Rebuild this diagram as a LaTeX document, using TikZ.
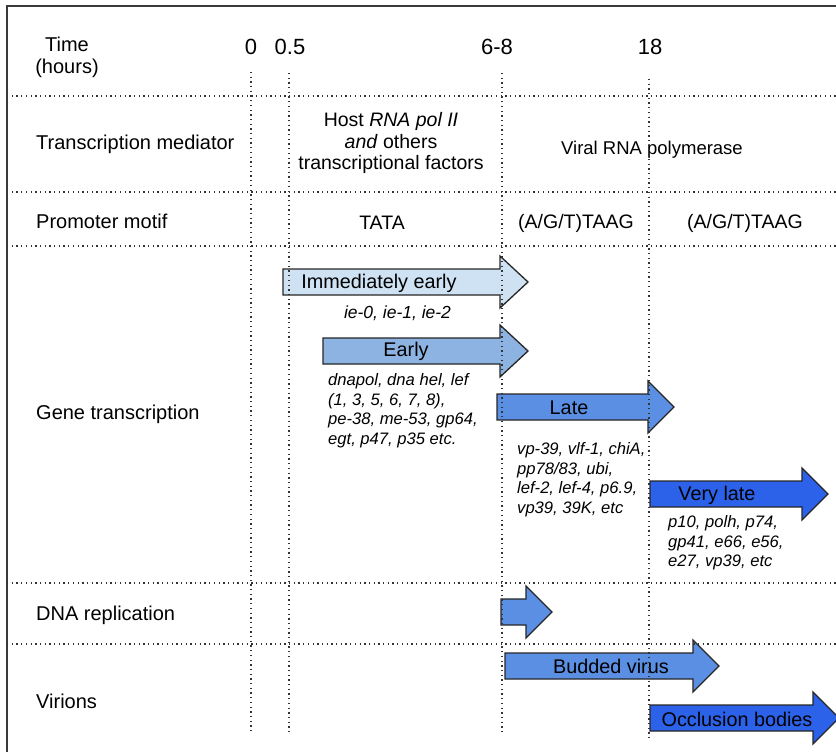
\documentclass[tikz,border=0pt]{standalone}
\usepackage{fontspec}
\setmainfont{Liberation Sans}
\definecolor{ieblue}{HTML}{CFE2F3}
\definecolor{eblue}{HTML}{8DB3E2}
\definecolor{lblue}{HTML}{5B8FE3}
\definecolor{vblue}{HTML}{2C62E9}
\definecolor{framegray}{HTML}{3A3A3A}
\newcommand\barrow[5]{% x1, xh, x2, yc, fill
  \draw[arr, fill=#5] (#1,#4-13) -- (#2,#4-13) -- (#2,#4-26) -- (#3,#4) -- (#2,#4+26) -- (#2,#4+13) -- (#1,#4+13) -- cycle;}
\begin{document}
\begin{tikzpicture}[x=1pt,y=-1pt,
  lab/.style={font=\fontsize{19.8}{22}\selectfont, inner sep=0pt},
  mid/.style={font=\fontsize{19.5}{21.5}\selectfont, inner sep=0pt},
  rowlab/.style={font=\fontsize{20}{22}\selectfont, inner sep=0pt, anchor=west},
  genes/.style={font=\fontsize{16.6}{19.8}\selectfont\itshape, align=left, inner sep=0pt, anchor=north west},
  tnum/.style={font=\fontsize{22}{26}\selectfont, inner sep=0pt},
  gridline/.style={line width=1.3pt, dash pattern=on 1.3pt off 3.4pt, color=black!80},
  arr/.style={draw=black!85, line width=1.3pt, line join=miter}]
\useasboundingbox (0,0) rectangle (836,752);

% frame
\draw[line width=2pt, color=framegray] (7,752) -- (7,6) -- (836,6);

% time header
\node[font=\fontsize{20}{22}\selectfont, inner sep=0pt, align=center] (time) at (67,57) {Time\\(hours)};
\node[tnum] (t0) at (251,47) {0};
\node[tnum] (t05) at (290,47) {0.5};
\node[tnum] (t68) at (497,47) {6-8};
\node[tnum] (t18) at (650,47) {18};

% row labels
\node[rowlab] (rmed) at (36,144) {Transcription mediator};
\node[rowlab] (rprom) at (36,221) {Promoter motif};
\node[rowlab] (rgene) at (36,414) {Gene transcription};
\node[rowlab] (rdna) at (36,615) {DNA replication};
\node[rowlab] (rvir) at (36,701) {Virions};

% mediator / promoter texts
\node[mid, align=center] (host) at (391,143) {Host \textit{RNA pol II}\\\textit{and} others\\transcriptional factors};
\node[font=\fontsize{18.5}{21}\selectfont, inner sep=0pt] (viral) at (652,150) {Viral RNA polymerase};
\node[mid] (tata) at (382,223) {TATA};
\node[mid] (motif1) at (576,223) {(A/G/T)TAAG};
\node[mid] (motif2) at (745,223) {(A/G/T)TAAG};

% arrows
\barrow{283}{500}{528}{282}{ieblue}
\barrow{323}{500}{528}{351}{eblue}
\barrow{497}{648}{674}{407}{lblue}
\barrow{650}{802}{828}{494}{vblue}
\barrow{501}{526}{552}{612}{lblue}
\barrow{505}{693}{719}{666}{lblue}
\barrow{650}{813}{839}{718}{vblue}

\node[lab] (aie) at (379,283) {Immediately early};
\node[lab] (aearly) at (406,351) {Early};
\node[lab] (alate) at (569,408) {Late};
\node[lab] (avlate) at (717,495) {Very late};
\node[lab] (abud) at (611,666) {Budded virus};
\node[lab] (aocc) at (737,719) {Occlusion bodies};

% gene lists
\node[font=\fontsize{17.5}{20}\selectfont\itshape, inner sep=0pt] (gie) at (397.5,313) {ie-0, ie-1, ie-2};
\node[genes] (gearly) at (328,373) {dnapol, dna hel, lef\\(1, 3, 5, 6, 7, 8),\\pe-38, me-53, gp64,\\egt, p47, p35 etc.};
\node[genes] (glate) at (517,442) {vp-39, vlf-1, chiA,\\pp78/83, ubi,\\lef-2, lef-4, p6.9,\\vp39, 39K, etc};
\node[genes] (gvlate) at (668,515) {p10, polh, p74,\\gp41, e66, e56,\\e27, vp39, etc};

% dotted grid
\foreach \yy in {96,192,246,583,644} \draw[gridline] (7,\yy) -- (836,\yy);
\draw[gridline] (251,72) -- (251,733);
\draw[gridline] (289,73) -- (289,733);
\draw[gridline] (502,73) -- (502,735);
\draw[gridline] (649,79) -- (649,740);
\end{tikzpicture}
\end{document}
